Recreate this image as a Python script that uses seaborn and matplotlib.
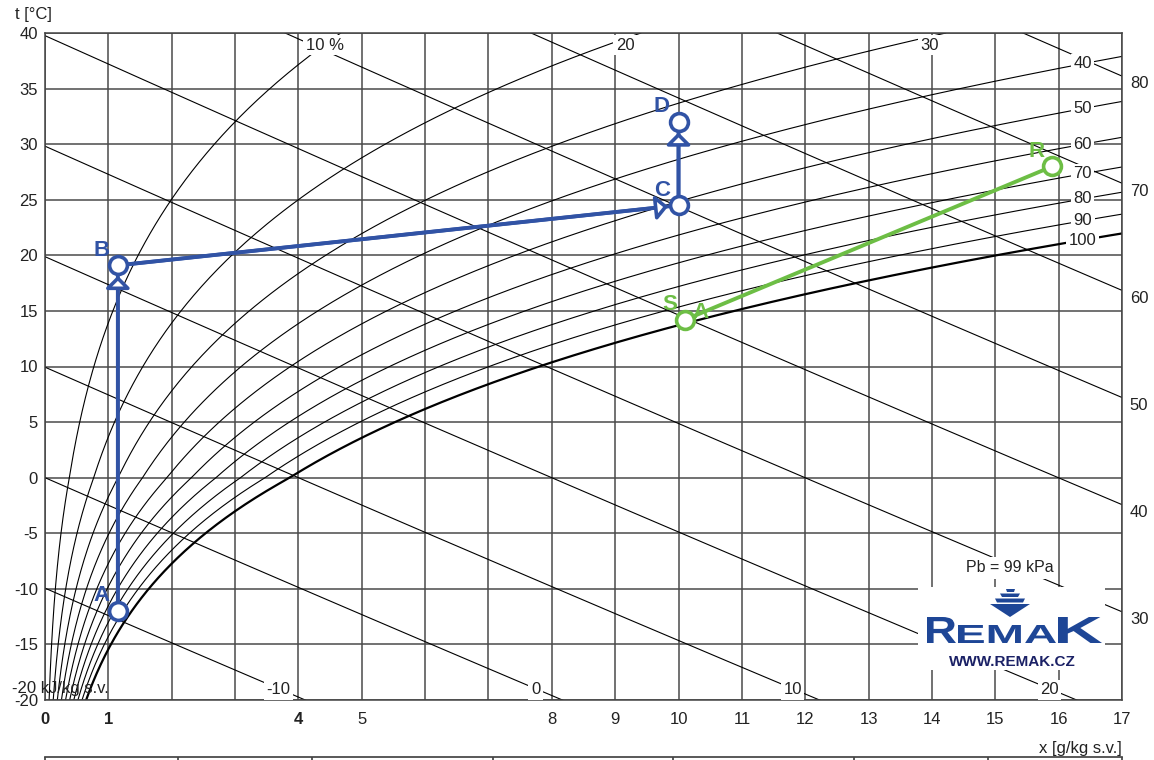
import numpy as np
import pandas as pd
import seaborn as sns
import matplotlib.pyplot as plt
from matplotlib.patches import Polygon, PathPatch
from matplotlib.textpath import TextPath
from matplotlib.font_manager import FontProperties
from matplotlib.transforms import Affine2D

# --- data ---
P_BARO = 99.0  # kPa, as printed on the chart

RH_LEVELS = [10, 20, 30, 40, 50, 60, 70, 80, 90, 100]
RH_TOP_LABELS = {10: "10 %", 20: "20", 30: "30"}
RH_RIGHT_LABELS = [40, 50, 60, 70, 80, 90, 100]

H_LEVELS = [-10, 0, 10, 20, 30, 40, 50, 60, 70, 80]
H_BOTTOM_LABELS = [-10, 0, 10, 20]
H_RIGHT_LABELS = [30, 40, 50, 60, 70, 80]

X_TICKS = list(range(0, 18))
X_TICK_LABELS = ["0", "1", "", "", "4", "5", "", "", "8", "9", "10",
                 "11", "12", "13", "14", "15", "16", "17"]
BOLD_X_LABELS = ["0", "1", "4"]
Y_TICKS = list(range(-20, 41, 5))

# process points (x in g/kg, t in degC)
BLUE_NAMES = ["A", "B", "C", "D"]
BLUE_X = [1.15, 1.15, 10.0, 10.0]
BLUE_T = [-12.0, 19.1, 24.5, 32.0]

GREEN_NAMES = ["S", "R"]
GREEN_X = [10.1, 15.9]
GREEN_T = [14.2, 28.0]

BOTTOM_SCALE_TICKS = [0, 2.1, 4.22, 7.07, 9.91, 12.77, 14.88, 17]

BLUE = "#3153a5"
GREEN = "#6dbe45"
LOGO_BLUE = "#1e4696"
NAVY = "#1b2166"
TXT = "#222222"


def p_sat(t):
    t = np.asarray(t, float)
    water = 0.61094 * np.exp(17.625 * t / (t + 243.04))
    ice = 0.61115 * np.exp(22.452 * t / (272.55 + t))
    return np.where(t >= 0, water, ice)


def x_of(t, rh):
    pw = rh / 100.0 * p_sat(t)
    return 622.0 * pw / (P_BARO - pw)


def t_of_h(h, x):
    return (h - 2.501 * x) / (1.006 + 0.00186 * x)


# curve tables
t_grid = np.linspace(-20, 40, 301)
rh_df = pd.concat([pd.DataFrame({"x": x_of(t_grid, rh), "t": t_grid, "curve": rh})
                   for rh in RH_LEVELS], ignore_index=True)

x_grid = np.linspace(0, 17, 200)
h_df = pd.concat([pd.DataFrame({"x": x_grid, "t": t_of_h(h, x_grid), "curve": h})
                  for h in H_LEVELS], ignore_index=True)
h_df = h_df[(h_df["t"] > -21) & (h_df["t"] < 41)]

sns.set_theme(style="white")
plt.rcParams['font.family'] = ['Liberation Sans', 'DejaVu Sans']
plt.rcParams['axes.unicode_minus'] = False

fig = plt.figure(figsize=(11.54, 7.6), dpi=100)
ax = fig.add_axes([45 / 1154, 60 / 760, 1077 / 1154, 667 / 760])
ax.set_xlim(0, 17)
ax.set_ylim(-20, 40)

ax.set_xticks(X_TICKS)
ax.set_xticklabels(X_TICK_LABELS)
ax.set_yticks(Y_TICKS)
ax.tick_params(length=0, labelsize=12, colors=TXT)
ax.tick_params(axis="x", pad=9)
ax.tick_params(axis="y", pad=5)
for lab in ax.get_xticklabels():
    if lab.get_text() in BOLD_X_LABELS:
        lab.set_fontweight("bold")
ax.grid(True, color="#4a4a4a", lw=1.1)
ax.set_axisbelow(True)
for sp in ax.spines.values():
    sp.set_color("#444444")
    sp.set_linewidth(1.1)

# relative humidity curves
sns.lineplot(data=rh_df[rh_df["curve"] < 100], x="x", y="t", units="curve",
             estimator=None, sort=False, color="black", lw=0.8, legend=False, ax=ax)
sns.lineplot(data=rh_df[rh_df["curve"] == 100], x="x", y="t",
             estimator=None, sort=False, color="black", lw=1.6, legend=False, ax=ax)
# enthalpy lines
sns.lineplot(data=h_df, x="x", y="t", units="curve",
             estimator=None, sort=False, color="black", lw=0.8, legend=False, ax=ax)

label_box = dict(boxstyle="square,pad=0.15", fc="white", ec="none")
lab_kw = dict(fontsize=12, color=TXT, ha="center", va="center",
              bbox=label_box, zorder=6, clip_on=False)

# RH labels
for rh, txt in RH_TOP_LABELS.items():
    ax.text(float(x_of(40, rh)) - 0.25, 38.9, txt, **lab_kw)
t_fine = np.linspace(-20, 40, 2000)
for rh in RH_RIGHT_LABELS:
    t_lab = np.interp(16.38, x_of(t_fine, rh), t_fine)
    ax.text(16.38, t_lab, str(rh), **lab_kw)

# enthalpy labels
for h in H_BOTTOM_LABELS:
    xb = (h - 1.006 * -19.1) / (2.501 + 0.00186 * -19.1)
    ax.text(xb - 0.05, -19.1, str(h), **lab_kw)
for h in H_RIGHT_LABELS:
    ax.text(17.27, t_of_h(h, 17.0) - 0.7, str(h), fontsize=12, color=TXT,
            ha="center", va="center", clip_on=False)
ax.text(-0.52, -19.0, "-20 kJ/kg s.v.", fontsize=12, color=TXT,
        ha="left", va="center", clip_on=False)

# axis captions
fig.text(15 / 1154, 1 - 15 / 760, "t [°C]", fontsize=12, color=TXT,
         ha="left", va="center")
fig.text(1122 / 1154, 1 - 748 / 760, "x [g/kg s.v.]", fontsize=12, color=TXT,
         ha="right", va="center")

# blue process A-B-C-D
sns.lineplot(x=BLUE_X, y=BLUE_T, sort=False, estimator=None, color=BLUE, lw=2.8,
             ax=ax, zorder=5)
for i in range(1, len(BLUE_X)):
    ax.annotate("", xy=(BLUE_X[i], BLUE_T[i]), xytext=(BLUE_X[i - 1], BLUE_T[i - 1]),
                arrowprops=dict(arrowstyle="-|>,head_length=0.6,head_width=0.6",
                                ec=BLUE, fc="white", lw=2.6, shrinkA=0, shrinkB=7.5),
                zorder=6)
sns.scatterplot(x=BLUE_X, y=BLUE_T, s=165, color="white", edgecolor=BLUE,
                linewidth=2.6, ax=ax, zorder=7)
for name, xv, tv in zip(BLUE_NAMES, BLUE_X, BLUE_T):
    ax.annotate(name, (xv, tv), xytext=(-12, 11), textcoords="offset points",
                ha="center", va="center", fontsize=16, fontweight="bold",
                color=BLUE, zorder=8)

# green process S-R
sns.lineplot(x=GREEN_X, y=GREEN_T, sort=False, estimator=None, color=GREEN, lw=2.8,
             ax=ax, zorder=5)
sns.scatterplot(x=GREEN_X, y=GREEN_T, s=165, color="white", edgecolor=GREEN,
                linewidth=2.6, ax=ax, zorder=7)
for name, xv, tv in zip(GREEN_NAMES, GREEN_X, GREEN_T):
    ax.annotate(name, (xv, tv), xytext=(-11, 11), textcoords="offset points",
                ha="center", va="center", fontsize=16, fontweight="bold",
                color=GREEN, zorder=8)
ax.annotate("A", (GREEN_X[0], GREEN_T[0]), xytext=(11, 5), textcoords="offset points",
            ha="center", va="center", fontsize=16, fontweight="bold",
            color=GREEN, zorder=8)
ax.set_xlabel("")
ax.set_ylabel("")

# pressure note and logo
fig.text(1010 / 1154, 1 - 568 / 760, "Pb = 99 kPa", fontsize=11.5, color=TXT,
         ha="center", va="center", bbox=dict(boxstyle="square,pad=0.2", fc="white", ec="none"),
         zorder=10)

lg = fig.add_axes([918 / 1154, 1 - 670 / 760, 187 / 1154, 83 / 760])
lg.set_xlim(0, 187)
lg.set_ylim(83, 0)
lg.set_facecolor("white")
lg.set_xticks([])
lg.set_yticks([])
for sp in lg.spines.values():
    sp.set_visible(False)

fp = FontProperties(family="Liberation Sans", weight="bold")


def fit_text(s, x0, x1, ytop, ybot):
    tp = TextPath((0, 0), s, size=1, prop=fp)
    ext = tp.get_extents()
    sx = (x1 - x0) / ext.width
    sy = (ybot - ytop) / ext.height
    tr = Affine2D().translate(-ext.x0, -ext.y0).scale(sx, -sy).translate(x0, ybot)
    lg.add_patch(PathPatch(tr.transform_path(tp), fc=LOGO_BLUE, ec="none"))


fit_text("R", 9, 38, 30, 56)
fit_text("EMA", 40, 138, 38, 56)
fit_text("K", 140, 184, 30, 56)
lg.add_patch(Polygon([(88, 2), (97, 2), (96, 5), (89, 5)], fc=LOGO_BLUE, ec="none"))
lg.add_patch(Polygon([(82, 6.5), (102, 6.5), (100, 10), (84, 10)], fc=LOGO_BLUE, ec="none"))
lg.add_patch(Polygon([(77, 11.5), (107, 11.5), (105, 15.5), (79, 15.5)], fc=LOGO_BLUE, ec="none"))
lg.add_patch(Polygon([(72, 17), (112, 17), (92, 30)], fc=LOGO_BLUE, ec="none"))
lg.text(94, 75, "WWW.REMAK.CZ", fontsize=11, fontweight="bold", color=NAVY,
        ha="center", va="center")

# partial scale line at the bottom edge
bs = fig.add_axes([45 / 1154, 0, 1077 / 1154, 3 / 760])
bs.set_xlim(0, 17)
bs.set_facecolor("none")
for side in ["left", "right", "bottom"]:
    bs.spines[side].set_visible(False)
bs.spines["top"].set_color("#444444")
bs.set_yticks([])
bs.set_xticks(BOTTOM_SCALE_TICKS)
bs.tick_params(axis="x", top=True, bottom=False, labelbottom=False, direction="in",
               length=4, color="#444444")

fig.savefig("out.png", dpi=100)
